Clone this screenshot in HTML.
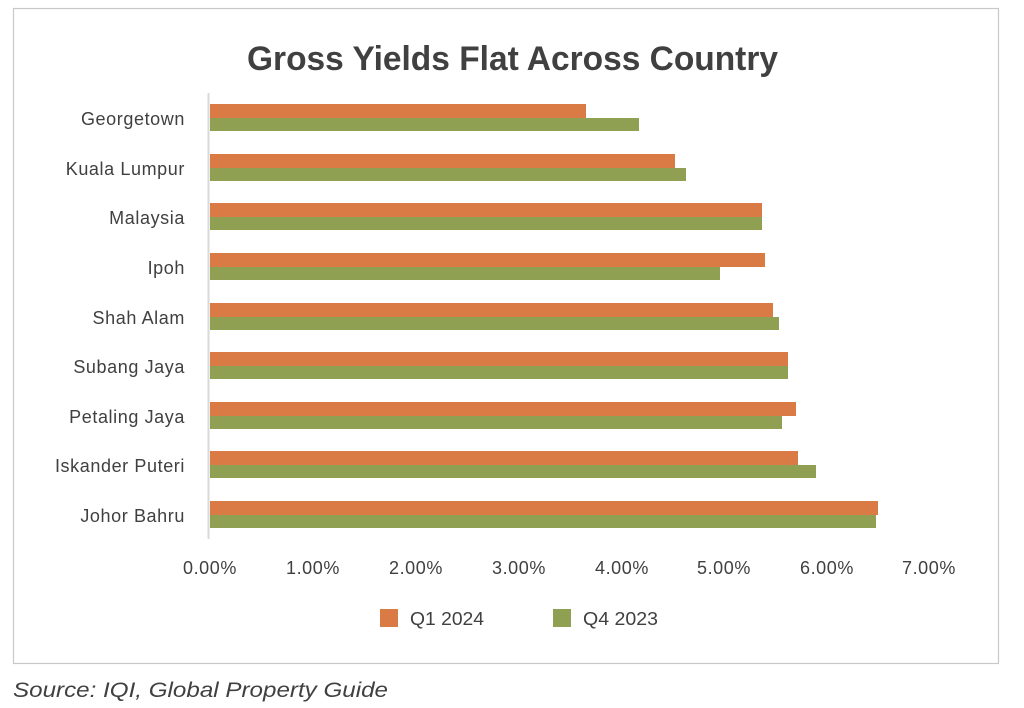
<!DOCTYPE html>
<html><head><meta charset="utf-8"><style>
html,body{margin:0;padding:0;background:#fff;}
svg{display:block;font-family:"Liberation Sans",sans-serif;}
</style></head><body>
<svg width="1024" height="708" viewBox="0 0 1024 708">
<rect x="13.5" y="8.5" width="985" height="655" fill="#fff" stroke="#c8c8c8" stroke-width="1.2"/>
<text x="247" y="70" font-size="34" font-weight="bold" fill="#404040" textLength="531" lengthAdjust="spacingAndGlyphs">Gross Yields Flat Across Country</text>
<line x1="208.5" y1="93" x2="208.5" y2="539" stroke="#d9d9d9" stroke-width="2"/>
<g font-size="18" fill="#404040" text-anchor="end" letter-spacing="0.6">
<text x="185" y="125">Georgetown</text>
<text x="185" y="175">Kuala Lumpur</text>
<text x="185" y="224">Malaysia</text>
<text x="185" y="274">Ipoh</text>
<text x="185" y="324">Shah Alam</text>
<text x="185" y="373">Subang Jaya</text>
<text x="185" y="423">Petaling Jaya</text>
<text x="185" y="472">Iskander Puteri</text>
<text x="185" y="522">Johor Bahru</text>
</g>
<g fill="#da7a45">
<rect x="210" y="104" width="376" height="14"/>
<rect x="210" y="154" width="465" height="14"/>
<rect x="210" y="203" width="552" height="14"/>
<rect x="210" y="253" width="555" height="14"/>
<rect x="210" y="303" width="563" height="14"/>
<rect x="210" y="352" width="578" height="14"/>
<rect x="210" y="402" width="586" height="14"/>
<rect x="210" y="451" width="588" height="14"/>
<rect x="210" y="501" width="668" height="14"/>
</g>
<g fill="#8fa052">
<rect x="210" y="118" width="429" height="13"/>
<rect x="210" y="168" width="476" height="13"/>
<rect x="210" y="217" width="552" height="13"/>
<rect x="210" y="267" width="510" height="13"/>
<rect x="210" y="317" width="569" height="13"/>
<rect x="210" y="366" width="578" height="13"/>
<rect x="210" y="416" width="572" height="13"/>
<rect x="210" y="465" width="606" height="13"/>
<rect x="210" y="515" width="666" height="13"/>
</g>
<g font-size="18" fill="#404040" text-anchor="middle" letter-spacing="0.6">
<text x="210" y="574">0.00%</text>
<text x="313" y="574">1.00%</text>
<text x="416" y="574">2.00%</text>
<text x="519" y="574">3.00%</text>
<text x="622" y="574">4.00%</text>
<text x="724" y="574">5.00%</text>
<text x="827" y="574">6.00%</text>
<text x="929" y="574">7.00%</text>
</g>
<rect x="380" y="609" width="18" height="18" fill="#da7a45"/>
<text x="410" y="625" font-size="18" fill="#404040" textLength="74" lengthAdjust="spacingAndGlyphs">Q1 2024</text>
<rect x="553" y="609" width="18" height="18" fill="#8fa052"/>
<text x="583" y="625" font-size="18" fill="#404040" textLength="75" lengthAdjust="spacingAndGlyphs">Q4 2023</text>
<text x="13" y="697" font-size="21" font-style="italic" fill="#404040" textLength="375" lengthAdjust="spacingAndGlyphs">Source: IQI, Global Property Guide</text>
</svg>
</body></html>
